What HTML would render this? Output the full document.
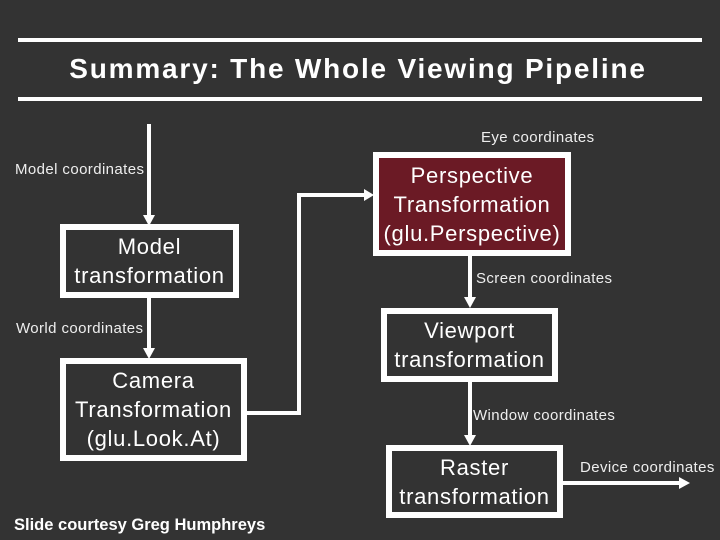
<!DOCTYPE html>
<html><head><style>
body{margin:0;width:720px;height:540px;background:#333;overflow:hidden;font-family:"Liberation Sans",sans-serif;color:#fff;position:relative}
.t{position:absolute;white-space:nowrap}
.box{position:absolute;border:6px solid #fff;box-sizing:border-box;display:flex;align-items:center;justify-content:center;text-align:center;font-size:22px;letter-spacing:0.7px;line-height:29px;background:#333;white-space:nowrap}
.s{font-size:15px;letter-spacing:0.4px;color:#eee}
</style></head><body>
<div style="position:absolute;left:18px;top:38px;width:684px;height:4px;background:#fff"></div>
<div style="position:absolute;left:18px;top:97px;width:684px;height:4px;background:#fff"></div>
<div class="t" style="left:0;width:716px;text-align:center;top:53px;font-size:28px;letter-spacing:1.8px;font-weight:bold">Summary: The Whole Viewing Pipeline</div>
<svg width="720" height="540" style="position:absolute;left:0;top:0">
<g stroke="#fff" stroke-width="4" fill="none">
<line x1="149" y1="124" x2="149" y2="216"/>
<line x1="149" y1="298" x2="149" y2="349"/>
<polyline points="247,413 299,413 299,195 365,195"/>
<line x1="470" y1="256" x2="470" y2="298"/>
<line x1="470" y1="382" x2="470" y2="436"/>
<line x1="563" y1="483" x2="680" y2="483"/>
</g>
<g fill="#fff">
<polygon points="143,215 155,215 149,226"/>
<polygon points="143,348 155,348 149,359"/>
<polygon points="364,189 364,201 374,195"/>
<polygon points="464,297 476,297 470,308"/>
<polygon points="464,435 476,435 470,446"/>
<polygon points="679,477 679,489 690,483"/>
</g>
</svg>
<div class="box" style="left:60px;top:224px;width:179px;height:74px">Model<br>transformation</div>
<div class="box" style="left:60px;top:358px;width:187px;height:103px">Camera<br>Transformation<br>(glu.Look.At)</div>
<div class="box" style="left:373px;top:152px;width:198px;height:104px;background:#6b1a25">Perspective<br>Transformation<br>(glu.Perspective)</div>
<div class="box" style="left:381px;top:308px;width:177px;height:74px">Viewport<br>transformation</div>
<div class="box" style="left:386px;top:445px;width:177px;height:73px">Raster<br>transformation</div>
<div class="t s" style="left:15px;top:161px">Model coordinates</div>
<div class="t s" style="left:16px;top:320px">World coordinates</div>
<div class="t s" style="left:481px;top:129px">Eye coordinates</div>
<div class="t s" style="left:476px;top:270px">Screen coordinates</div>
<div class="t s" style="left:473px;top:407px">Window coordinates</div>
<div class="t s" style="left:580px;top:459px">Device coordinates</div>
<div class="t" style="left:14px;top:516px;font-size:16.5px;font-weight:bold">Slide courtesy Greg Humphreys</div>
</body></html>
